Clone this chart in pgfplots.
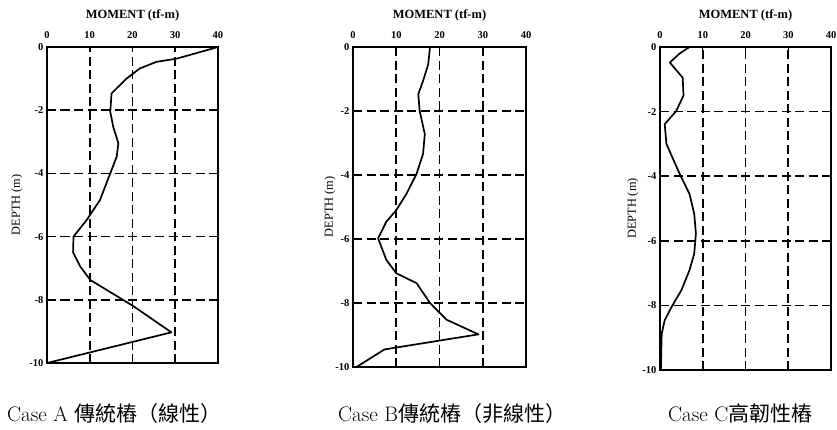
\documentclass[border=0pt]{standalone}
\usepackage{pgfplots}
\pgfplotsset{compat=1.18}
\usepackage{fontspec}
\setmainfont{Liberation Serif}
\newfontfamily\lmr{Latin Modern Roman}
\newfontfamily\cjk{Noto Sans CJK TC}

% Bending moment profiles: moment (tf-m) against depth (m)
\pgfplotstableread{
m d
40 0
30.3 -0.37
25.6 -0.47
21.7 -0.68
18.6 -1.0
15.1 -1.47
14.8 -2.05
15.5 -2.53
16.7 -3.05
16.3 -3.47
14.8 -4.0
12.4 -4.84
9.3 -5.47
6.2 -6.0
6.1 -6.5
7.8 -6.95
10.1 -7.37
20.2 -8.2
29.1 -9.03
0 -10
}\caseA

\pgfplotstableread{
m d
17.8 0
17.4 -0.54
16.2 -1.06
15.1 -1.47
15.4 -1.99
16.6 -2.72
16.2 -3.34
14.7 -3.96
12.4 -4.58
10.0 -5.1
7.7 -5.46
5.8 -5.98
7.7 -6.65
10.0 -7.07
14.7 -7.38
17.8 -8.0
21.6 -8.52
29.0 -8.98
7.3 -9.45
0.8 -10
}\caseB

\pgfplotstableread{
m d
6.9 0
4.6 -0.2
2.3 -0.48
5.3 -0.95
5.5 -1.5
3.8 -1.98
1.1 -2.39
1.5 -3.0
4.6 -3.93
6.9 -4.55
8.0 -5.16
8.4 -5.78
8.0 -6.4
6.9 -6.91
5.0 -7.53
2.7 -8.05
1.1 -8.46
0.4 -8.87
0.2 -10
}\caseC

\pgfplotsset{
  momentaxis/.style={
    scale only axis,
    anchor=north west,
    xmin=0, xmax=40, ymin=-10, ymax=0,
    xtick={0,10,20,30,40},
    xticklabels={0,10,20,30,40},
    ytick={0,-2,-4,-6,-8,-10},
    yticklabels={0,-2,-4,-6,-8,-10},
    xticklabel pos=right,
    xtick pos=right,
    ytick pos=left,
    tick align=inside,
    major tick length=5pt,
    tick style={line width=1.2pt, black},
    grid=major,
    major grid style={black, line width=1.6pt, dash pattern=on 9pt off 4.5pt},
    axis line style={line width=1.6pt},
    tick label style={font=\fontsize{10.5}{12}\selectfont\bfseries},
    xticklabel style={yshift=5pt},
    xlabel={MOMENT (tf-m)},
    ylabel={DEPTH (m)},
    xlabel style={font=\fontsize{12.5}{14}\selectfont\bfseries,
      at={(axis description cs:0.5,1)}, anchor=south, yshift=22pt},
    ylabel style={font=\fontsize{12.3}{14}\selectfont,
      at={(axis description cs:0,0.5)}, anchor=center},
  },
  moment/.style={black, line width=1.7pt, mark=none, line join=round},
}

\begin{document}
\begin{tikzpicture}
\path[use as bounding box] (0pt,0pt) rectangle (837pt,-430pt);

% the y label is rotated, so a yshift moves it to the left
\begin{axis}[momentaxis, at={(47pt,-47pt)}, width=171pt, height=316pt,
  ylabel style={yshift=30pt}]
  \addplot[moment] table[x=m, y=d] {\caseA};
\end{axis}

\begin{axis}[momentaxis, at={(353pt,-47pt)}, width=173pt, height=320pt,
  ylabel style={yshift=23pt}]
  \addplot[moment] table[x=m, y=d] {\caseB};
\end{axis}

\begin{axis}[momentaxis, at={(660pt,-47pt)}, width=171pt, height=323pt,
  ylabel style={yshift=27pt}]
  \addplot[moment] table[x=m, y=d] {\caseC};
\end{axis}

\node[anchor=base west, inner sep=0pt] at (7pt,-421pt)
  {\fontsize{21}{24}\selectfont\lmr Case A \cjk 傳統樁（線性）};
\node[anchor=base west, inner sep=0pt] at (338pt,-421pt)
  {\fontsize{21}{24}\selectfont\lmr Case B\cjk 傳統樁（非線性）};
\node[anchor=base west, inner sep=0pt] at (668pt,-421pt)
  {\fontsize{21}{24}\selectfont\lmr Case C\cjk 高韌性樁};
\end{tikzpicture}
\end{document}
